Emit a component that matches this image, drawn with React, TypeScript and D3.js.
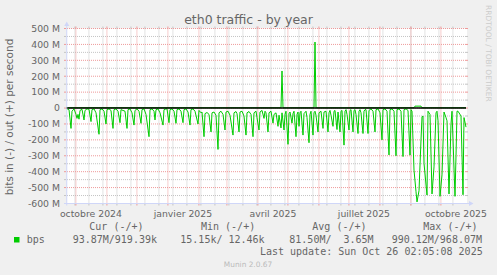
import React from "react";
import * as d3 from "d3";

const W = 497;
const H = 275;

// time span: munin yearly graph, 400 days ending at last update
const lastUpdate = new Date(2025, 9, 26, 2, 5, 8);
const spanDays = 400;

const yTicks = [500, 400, 300, 200, 100, 0, -100, -200, -300, -400, -500, -600];
const yTickLabels = ["500 M", "400 M", "300 M", "200 M", "100 M", "0", "-100 M", "-200 M", "-300 M", "-400 M", "-500 M", "-600 M"];
const yMinor = [450, 350, 250, 150, 50, -50, -150, -250, -350, -450, -550];

const xLabelMonths = [new Date(2024, 9, 1), new Date(2025, 0, 1), new Date(2025, 3, 1), new Date(2025, 6, 1), new Date(2025, 9, 1)];
const xLabels = ["octobre 2024", "janvier 2025", "avril 2025", "juillet 2025", "octobre 2025"];

// [day since graph start, Mbit/s received] (graphed negative)
const inSeries: [number, number][] = [
  [1, 5], [3, 10], [5, 128], [6, 20], [8, 5], [10, 40], [11, 65], [12, 40], [13, 70], [14, 15], [16, 8], [18, 75], [19, 15], [21, 5], [23, 8], [25, 85], [26, 10], [28, 5], [30, 30], [33, 165], [34, 10], [36, 5], [38, 20], [40, 100], [41, 10], [43, 5], [45, 15], [47, 128], [48, 10], [50, 5], [52, 20], [54, 92], [55, 10], [57, 15], [59, 20], [61, 128], [62, 10], [64, 5], [66, 30], [68, 107], [69, 15], [71, 5], [73, 20], [75, 96], [76, 10], [78, 5], [80, 40], [83, 180], [84, 10], [86, 5], [88, 20], [89, 75], [90, 10], [92, 5], [94, 30], [97, 107], [98, 10], [100, 5],
  [101, 5], [103, 92], [104, 10], [106, 5], [108, 20], [110, 96], [111, 10], [113, 5], [115, 20], [117, 92], [118, 10], [120, 5], [122, 25], [124, 107], [125, 10], [127, 5], [129, 20], [132, 100], [133, 15], [135, 30], [136, 25], [138, 180], [139, 35], [141, 28], [143, 40], [145, 150], [146, 30], [148, 25], [150, 45], [152, 260], [153, 30], [155, 20], [157, 40], [159, 138], [160, 25], [162, 20], [164, 45], [167, 170], [168, 30], [170, 22], [171, 35], [173, 150], [174, 25], [176, 20], [178, 50], [180, 170], [181, 30], [183, 22], [185, 40], [187, 180], [188, 30], [190, 20], [191, 60], [193, 138], [194, 25], [196, 15], [198, 65], [199, 20],
  [200, 30], [202, 150], [203, 30], [205, 20], [207, 95], [208, 40], [210, 30], [212, 115], [213, 45], [215, 125], [216, 30], [218, 138], [219, 40], [220, 20], [222, 228], [223, 35], [224, 25], [226, 95], [227, 35], [228, 20], [230, 180], [231, 40], [232, 25], [233, 115], [234, 30], [235, 20], [237, 170], [238, 35], [240, 20], [241, 60], [243, 218], [244, 40], [245, 20], [247, 170], [248, 30], [249, 20], [250, 45], [252, 150], [253, 30], [255, 20], [257, 128], [258, 25], [260, 20], [262, 150], [263, 30], [264, 15], [265, 45], [267, 115], [268, 20], [269, 15], [271, 135], [272, 25], [274, 150], [275, 20], [276, 15], [278, 233], [279, 20], [280, 10], [281, 40], [283, 138], [284, 15], [285, 10], [287, 150], [288, 15], [289, 10], [290, 40], [292, 160], [293, 20], [294, 10], [295, 30], [297, 160], [298, 20], [299, 10],
  [300, 10], [302, 160], [303, 15], [305, 5], [307, 20], [309, 150], [310, 10], [312, 5], [314, 30], [316, 200], [317, 10], [319, 5], [321, 20], [323, 295], [324, 10], [326, 5], [328, 20], [330, 300], [331, 10], [333, 5], [335, 20], [337, 305], [338, 10], [340, 5], [342, 15], [344, 296], [345, 10], [346, 20], [348, 390], [350, 526], [351, 590], [353, 520], [355, 200], [356, 55], [357, 50], [358, 348], [361, 547], [362, 20], [364, 40], [366, 540], [368, 370], [370, 30], [371, 20], [372, 80], [374, 555], [376, 420], [378, 25], [380, 60], [381, 80], [383, 540], [385, 100], [386, 20], [389, 555], [390, 300], [391, 20], [392, 20], [395, 50], [397, 545], [398, 60], [400, 120],
];

// [day since graph start, Mbit/s sent] (graphed positive)
const outSeries: [number, number][] = [
  [0, 2], [215, 2], [216, 233], [217, 2], [248, 2], [249, 415], [250, 2], [348, 2], [349, 12], [355, 12], [356, 2], [400, 2],
];

const legendName = "bps";
const legendHeaders = ["Cur (-/+)", "Min (-/+)", "Avg (-/+)", "Max (-/+)"];
const legendValues = ["93.87M/919.39k", "15.15k/ 12.46k", "81.50M/  3.65M", "990.12M/968.07M"];
const lastUpdateText = "Last update: Sun Oct 26 02:05:08 2025";

const LINE_COLOR = "#00CC00";
const FONT_COLOR = "#666666";
const AXIS_COLOR = "#CFD6F8";
const MGRID_COLOR = "#EE9A9A";
const GRID_COLOR = "#C4C4C4";

export default function App() {
  const X0 = 66;
  const X1 = 466;
  const Y0 = 203.5;
  const Y1 = 28.5;
  const start = new Date(lastUpdate.getTime() - spanDays * 86400000);
  const x = d3.scaleTime().domain([start, lastUpdate]).range([X0, X1]);
  const y = d3.scaleLinear().domain([-600, 500]).range([Y0, Y1]);
  const dayDate = (d: number) => new Date(start.getTime() + d * 86400000);

  const inLine = d3
    .line<[number, number]>()
    .x((d) => x(dayDate(d[0])))
    .y((d) => y(-d[1]));
  const outLine = d3
    .line<[number, number]>()
    .x((d) => x(dayDate(d[0])))
    .y((d) => y(d[1]));

  const months = d3.timeMonth.range(d3.timeMonth.ceil(start), lastUpdate);
  const weeks = d3.timeMonday
    .range(d3.timeMonday.floor(start), lastUpdate)
    .filter((_, i) => i % 2 === 0)
    .filter((d) => d >= start);

  const axisX = 66.75;
  const sansFont = "'DejaVu Sans', Verdana, sans-serif";
  const monoFont = "'DejaVu Sans Mono', monospace";

  return (
    <svg
      width={W}
      height={H}
      viewBox={`0 0 ${W} ${H}`}
      style={{ position: "absolute", left: 0, top: 0 }}
    >
      <rect x={0} y={0} width={W} height={H} fill="#F0F0F0" />
      <rect x={axisX} y={Y1} width={X1 - axisX + 1} height={Y0 - Y1} fill="#FFFFFF" />

      {/* minor grid */}
      {yMinor.map((v) => (
        <g key={"ym" + v}>
          <line x1={X0 + 1} x2={X1} y1={y(v)} y2={y(v)} stroke={GRID_COLOR} strokeDasharray="1,1" />
          <line x1={X0 - 2} x2={X0} y1={y(v)} y2={y(v)} stroke={GRID_COLOR} />
          <line x1={X1} x2={X1 + 2} y1={y(v)} y2={y(v)} stroke={GRID_COLOR} />
        </g>
      ))}
      {weeks.map((d, i) => (
        <g key={"xw" + i}>
          <line x1={x(d)} x2={x(d)} y1={Y1} y2={Y0} stroke={GRID_COLOR} strokeDasharray="1,1" />
          <line x1={x(d)} x2={x(d)} y1={Y0} y2={Y0 + 2} stroke={GRID_COLOR} />
          <line x1={x(d)} x2={x(d)} y1={Y1 - 2} y2={Y1} stroke={GRID_COLOR} />
        </g>
      ))}
      {/* major grid */}
      {yTicks.map((v) => (
        <g key={"yM" + v}>
          <line x1={X0 + 1} x2={X1} y1={y(v)} y2={y(v)} stroke={MGRID_COLOR} strokeDasharray="1,1" />
          <line x1={X0 - 2} x2={X0} y1={y(v)} y2={y(v)} stroke={MGRID_COLOR} />
          <line x1={X1} x2={X1 + 2} y1={y(v)} y2={y(v)} stroke={MGRID_COLOR} />
        </g>
      ))}
      {months.map((d, i) => (
        <g key={"xM" + i}>
          <line x1={x(d)} x2={x(d)} y1={Y1} y2={Y0} stroke={MGRID_COLOR} strokeDasharray="1,1" />
          <line x1={x(d)} x2={x(d)} y1={Y0} y2={Y0 + 2} stroke={MGRID_COLOR} />
          <line x1={x(d)} x2={x(d)} y1={Y1 - 2} y2={Y1} stroke={MGRID_COLOR} />
        </g>
      ))}

      {/* data */}
      <path d={inLine(inSeries) || ""} fill="none" stroke={LINE_COLOR} strokeWidth={1} />
      <path d={outLine(outSeries) || ""} fill="none" stroke={LINE_COLOR} strokeWidth={1} />
      <line x1={X0} x2={X1} y1={y(0)} y2={y(0)} stroke="#000000" strokeWidth={1.6} />

      {/* axes */}
      <line x1={X0 - 2} x2={X1 + 3} y1={Y0} y2={Y0} stroke={AXIS_COLOR} />
      <line x1={axisX} x2={axisX} y1={Y0 + 2} y2={Y1 - 3} stroke={AXIS_COLOR} />
      <polygon points={`${X1 + 3},${Y0 - 2.5} ${X1 + 3},${Y0 + 2.5} ${X1 + 7.5},${Y0}`} fill={AXIS_COLOR} />
      <polygon points={`${axisX - 2.5},${Y1 - 2.5} ${axisX + 2.5},${Y1 - 2.5} ${axisX},${Y1 - 7}`} fill={AXIS_COLOR} />

      {/* y labels */}
      {yTicks.map((v, i) => (
        <text key={"yl" + v} x={60} y={y(v) + 3.3} textAnchor="end" fontFamily={sansFont} fontSize={9.3} fill={FONT_COLOR}>
          {yTickLabels[i]}
        </text>
      ))}
      {/* x labels */}
      {xLabelMonths.map((d, i) => (
        <text key={"xl" + i} x={x(d3.timeDay.offset(d, 15))} y={217} textAnchor="middle" fontFamily={sansFont} fontSize={9.3} fill={FONT_COLOR}>
          {xLabels[i]}
        </text>
      ))}

      {/* title */}
      <text x={248.5} y={24} textAnchor="middle" fontFamily={sansFont} fontSize={12.5} fill={FONT_COLOR}>
        eth0 traffic - by year
      </text>
      {/* vertical label */}
      <text transform="translate(13,117) rotate(-90)" textAnchor="middle" fontFamily={sansFont} fontSize={10.5} fill={FONT_COLOR}>
        bits in (-) / out (+) per second
      </text>
      {/* watermark */}
      <text transform="translate(485.5,5) rotate(90)" fontFamily={sansFont} fontSize={7.5} fill="#CCCCCC">
        RRDTOOL / TOBI OETIKER
      </text>

      {/* legend */}
      {legendHeaders.map((t, i) => (
        <text key={"lh" + i} x={[89.3, 201, 312.3, 423.3][i]} y={229.5} fontFamily={monoFont} fontSize={10} fill={FONT_COLOR} style={{ whiteSpace: "pre" }}>
          {t}
        </text>
      ))}
      <rect x={14} y={237} width={5.5} height={5.5} fill={LINE_COLOR} />
      <text x={26.7} y={242.5} fontFamily={monoFont} fontSize={10} fill={FONT_COLOR}>
        {legendName}
      </text>
      {legendValues.map((t, i) => (
        <text key={"lv" + i} x={[72.7, 180.3, 289.3, 391.7][i]} y={242.5} fontFamily={monoFont} fontSize={10} fill={FONT_COLOR} style={{ whiteSpace: "pre" }}>
          {t}
        </text>
      ))}
      <text x={482.7} y={255} textAnchor="end" fontFamily={monoFont} fontSize={10} fill={FONT_COLOR} style={{ whiteSpace: "pre" }}>
        {lastUpdateText}
      </text>
      <text x={248} y={266.5} textAnchor="middle" fontFamily={sansFont} fontSize={7.4} fill="#BBBBBB">
        Munin 2.0.67
      </text>
    </svg>
  );
}
